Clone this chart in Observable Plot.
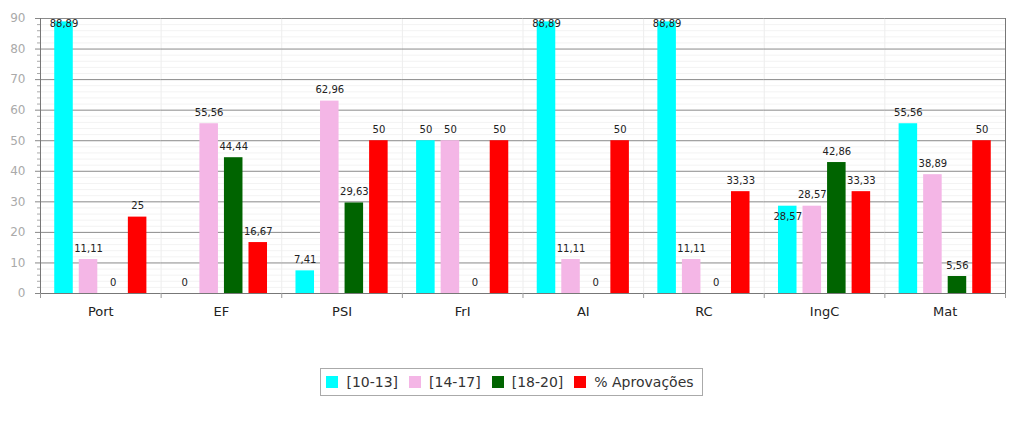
<!DOCTYPE html>
<html>
<head>
<meta charset="utf-8">
<script src="https://cdn.jsdelivr.net/npm/d3@7"></script>
<script src="https://cdn.jsdelivr.net/npm/@observablehq/plot@0.6"></script>
<style>
  html, body { margin: 0; padding: 0; background: #fff; }
  body { width: 1023px; height: 428px; overflow: hidden; font-family: "DejaVu Sans", Verdana, sans-serif; }
  #legend { display: flex; justify-content: center; margin-top: 35px; }
  #legend .box { display: flex; align-items: center; border: 1px solid #aaa; height: 26px; padding: 0 8px 0 5px; font-size: 14px; color: #333; }
  #legend .item { display: flex; align-items: center; margin-right: 11px; }
  #legend .item:last-child { margin-right: 0; }
  #legend .sw { width: 12px; height: 12px; margin-right: 8px; }
</style>
</head>
<body>
<div id="chart"></div>
<div id="legend"></div>
<script>
const categories = ["Port", "EF", "PSI", "FrI", "AI", "RC", "IngC", "Mat"];
const series = ["[10-13]", "[14-17]", "[18-20]", "% Aprovações"];
const colors = ["#00ffff", "#f4b6e6", "#006400", "#ff0000"];
const v10_13 = [88.89, 0, 7.41, 50, 88.89, 88.89, 28.57, 55.56];
const v14_17 = [11.11, 55.56, 62.96, 50, 11.11, 11.11, 28.57, 38.89];
const v18_20 = [0, 44.44, 29.63, 0, 0, 0, 42.86, 5.56];
const vAprov = [25, 16.67, 50, 50, 50, 33.33, 33.33, 50];
const yTicks = [0, 10, 20, 30, 40, 50, 60, 70, 80, 90];

const seriesValues = [v10_13, v14_17, v18_20, vAprov];
const fmt = v => String(v).replace(".", ",");

const W = 1023, H = 333, ML = 40, MR = 18, MT = 18, MB = 40;
const PI = 0.245, PO = 0.58;
const facetW = (W - ML - MR) / categories.length;
const step = facetW / (series.length - PI + 2 * PO);
const bw = step * (1 - PI);
const edge = PO * step + bw / 2;
const yTop = 90;
const labelCap = yTop - (16 / ((H - MT - MB) / yTop)); // keep top labels inside frame
const charW = 6.2; // approx label glyph width at 10px

const rows = categories.flatMap((c, i) => series.map((s, j) => ({cat: c, s, j, v: seriesValues[j][i]})));
// label collision: if the next series' label sits at the same height and the labels overlap horizontally
rows.forEach(d => {
  const next = rows.find(e => e.cat === d.cat && e.j === d.j + 1);
  const halfW = (fmt(d.v).length + (next ? fmt(next.v).length : 0)) * charW / 2;
  d.below = !!next && Math.abs(next.v - d.v) < 3 && d.v > 0 && halfW > step;
});

const minor = d3.range(0, 91, 2).filter(v => v % 10 !== 0);
const inner = categories.slice(1).map(c => ({c}));
const allLeft = categories.map(c => ({c}));
const lastCat = [{c: categories[categories.length - 1]}];
const firstCat = [{c: categories[0]}];

const chart = Plot.plot({
  width: W, height: H,
  marginLeft: ML, marginRight: MR, marginTop: MT, marginBottom: MB,
  style: {fontFamily: "DejaVu Sans, Verdana, sans-serif", background: "#fff"},
  fx: {domain: categories, padding: 0, round: false, label: null},
  x: {domain: series, paddingInner: PI, paddingOuter: PO, round: false, axis: null},
  y: {domain: [0, yTop], label: null},
  color: {domain: series, range: colors},
  marks: [
    Plot.ruleY(minor, {stroke: "#f3f3f3"}),
    Plot.ruleX(inner, {fx: "c", x: () => series[0], dx: -edge, stroke: "#ededed"}),
    Plot.ruleY(yTicks.filter(v => v > 0), {stroke: "#8a8a8a"}),
    Plot.barY(rows, {fx: "cat", x: "s", y: "v", fill: "s"}),
    Plot.text(rows.filter(d => !d.below), {fx: "cat", x: "s", y: d => Math.min(d.v, labelCap), text: d => fmt(d.v), dy: -11, fontSize: 10, fill: "#222"}),
    Plot.text(rows.filter(d => d.below), {fx: "cat", x: "s", y: "v", text: d => fmt(d.v), dy: 11, fontSize: 10, fill: "#222"}),
    Plot.ruleY([0], {stroke: "#777"}),
    Plot.ruleX(firstCat, {fx: "c", x: () => series[0], dx: -edge, stroke: "#777"}),
    Plot.ruleX(lastCat, {fx: "c", x: () => series[series.length - 1], dx: edge, stroke: "#777"}),
    Plot.ruleX(allLeft, {fx: "c", x: () => series[0], y1: 0, y2: 0, insetBottom: -5, dx: -edge, stroke: "#999"}),
    Plot.ruleX(lastCat, {fx: "c", x: () => series[series.length - 1], y1: 0, y2: 0, insetBottom: -5, dx: edge, stroke: "#999"}),
    Plot.axisY({ticks: minor, tickSize: 3, text: null, stroke: "#aaa"}),
    Plot.axisY({ticks: yTicks, tickSize: 5, text: null, stroke: "#888"}),
    Plot.axisY({ticks: yTicks, tickSize: 0, tickPadding: 15, fontSize: 12, fill: "#aaa", label: null}),
    Plot.axisFx({anchor: "bottom", tickSize: 0, tickPadding: 13, fontSize: 13, fill: "#222", label: null})
  ]
});
document.getElementById("chart").appendChild(chart);

const legend = d3.select("#legend").append("div").attr("class", "box");
series.forEach((s, j) => {
  const it = legend.append("div").attr("class", "item");
  it.append("div").attr("class", "sw").style("background", colors[j]);
  it.append("span").text(s);
});
</script>
</body>
</html>
